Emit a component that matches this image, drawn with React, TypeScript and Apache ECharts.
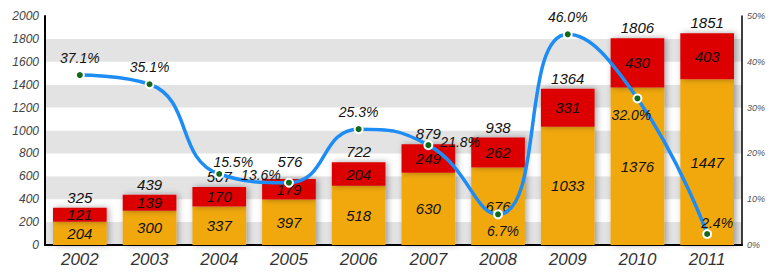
import React, { useEffect, useRef } from "react";
import * as echarts from "echarts";

const years = ["2002", "2003", "2004", "2005", "2006", "2007", "2008", "2009", "2010", "2011"];
const baseValues = [204, 300, 337, 397, 518, 630, 676, 1033, 1376, 1447];
const topValues = [121, 139, 170, 179, 204, 249, 262, 331, 430, 403];
const totals = [325, 439, 507, 576, 722, 879, 938, 1364, 1806, 1851];
const growth = [37.1, 35.1, 15.5, 13.6, 25.3, 21.8, 6.7, 46.0, 32.0, 2.4];
const leftTicks = { min: 0, max: 2000, interval: 200 };
const rightTicks = { min: 0, max: 50, interval: 10 };

const labelFont = { fontFamily: "Liberation Sans, Arial, sans-serif", fontStyle: "italic" as const };

const growthLabelPos: any[] = [
  { position: "top", offset: [0, 0] },
  { position: "top", offset: [0, 0] },
  { position: "top", offset: [14, 5] },
  { position: "top", offset: [-28, 9] },
  { position: "top", offset: [0, 0] },
  { position: "right", offset: [2, -3] },
  { position: "bottom", offset: [5, 0] },
  { position: "top", offset: [0, 0] },
  { position: "bottom", offset: [-6, 0] },
  { position: "top", offset: [10, 6] },
];

const totalLabelOffset: number[][] = [
  [0, 0], [0, 0], [0, 0], [1, -7], [0, 0], [0, 0], [0, 0], [0, 0], [0, 0], [0, 0],
];

export default function App() {
  const ref = useRef<HTMLDivElement>(null);
  useEffect(() => {
    if (!ref.current) return;
    const chart = echarts.init(ref.current, null, { renderer: "svg" });
    const barShadow = {
      shadowBlur: 6,
      shadowColor: "rgba(0,0,0,0.35)",
      shadowOffsetX: 2,
      shadowOffsetY: 0,
    };
    chart.setOption({
      animation: false,
      backgroundColor: "#ffffff",
      grid: { left: 45, right: 30, top: 16, bottom: 28 },
      xAxis: {
        type: "category",
        data: years,
        axisLine: { lineStyle: { color: "#000", width: 2 } },
        axisTick: { show: false },
        axisLabel: { ...labelFont, fontSize: 17, color: "#333", margin: 6 },
      },
      yAxis: [
        {
          type: "value",
          ...leftTicks,
          axisLine: { show: true, lineStyle: { color: "#000", width: 2 } },
          axisTick: { show: false },
          splitLine: { show: false },
          splitArea: { show: true, areaStyle: { color: ["#e3e3e3", "#ffffff"] } },
          axisLabel: {
            ...labelFont,
            fontSize: 12,
            color: "#444",
            margin: 6,
            formatter: (v: number) => String(v),
          },
        },
        {
          type: "value",
          ...rightTicks,
          axisLine: { show: true, lineStyle: { color: "#000", width: 1.5 } },
          axisTick: { show: false },
          splitLine: { show: false },
          splitArea: { show: false },
          axisLabel: { ...labelFont, fontSize: 9, color: "#555", margin: 5, formatter: "{value}%" },
        },
      ],
      series: [
        {
          type: "bar",
          stack: "total",
          data: baseValues,
          barWidth: "77%",
          itemStyle: { color: "#f0a80e", ...barShadow },
          label: { show: true, position: "inside", ...labelFont, fontSize: 15, color: "#111" },
        },
        {
          type: "bar",
          stack: "total",
          data: topValues,
          barWidth: "77%",
          itemStyle: { color: "#dc0000", ...barShadow },
          label: { show: true, position: "inside", ...labelFont, fontSize: 15, color: "#111" },
        },
        {
          type: "scatter",
          data: totals.map((v, i) => ({ value: v, label: { offset: totalLabelOffset[i] } })),
          symbolSize: 0,
          itemStyle: { opacity: 1, color: "#111" },
          label: {
            show: true,
            position: "top",
            distance: 3,
            ...labelFont,
            fontSize: 15,
            color: "#111",
            opacity: 1,
          },
          z: 5,
        },
        {
          type: "line",
          yAxisIndex: 1,
          data: growth.map((v, i) => ({ value: v, label: growthLabelPos[i] })),
          smooth: 0.5,
          lineStyle: { color: "#1e8cf5", width: 3.5 },
          symbol: "circle",
          symbolSize: 8,
          itemStyle: { color: "#116a1a", borderColor: "#ffffff", borderWidth: 2 },
          label: {
            show: true,
            ...labelFont,
            fontSize: 14,
            color: "#111",
            distance: 5,
            formatter: (p: any) => p.value.toFixed(1) + "%",
          },
          z: 10,
        },
      ],
    });
    return () => chart.dispose();
  }, []);
  return (
    <div
      ref={ref}
      style={{ position: "fixed", left: 0, top: 0, width: 772, height: 273 }}
    />
  );
}
